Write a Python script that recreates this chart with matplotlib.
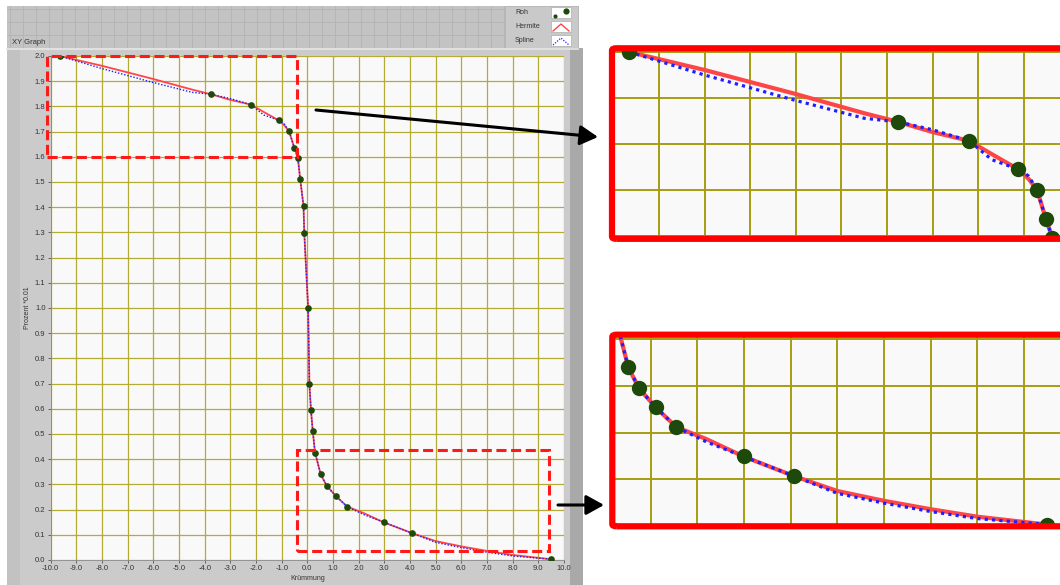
import numpy as np
import matplotlib
matplotlib.use("Agg")
import matplotlib.pyplot as plt
from matplotlib.patches import Rectangle, FancyBboxPatch, FancyArrowPatch
from matplotlib.lines import Line2D

# raw measurement points (Krümmung vs. Prozent*0.01)
roh_x = [-9.65, -3.75, -2.20, -1.12, -0.71, -0.51, -0.37, -0.28, -0.15, -0.12, 0.03,
         0.08, 0.14, 0.21, 0.30, 0.52, 0.75, 1.11, 1.55, 2.99, 4.07, 9.50]
roh_y = [2.000, 1.848, 1.807, 1.745, 1.701, 1.636, 1.596, 1.512, 1.406, 1.298, 1.001,
         0.700, 0.595, 0.512, 0.426, 0.340, 0.295, 0.254, 0.212, 0.149, 0.107, 0.003]

# interpolated curves
curve_x = [-9.65, -8.0, -6.05, -4.5, -3.75, -3.0, -2.20, -1.7, -1.12, -0.9, -0.71, -0.51,
           -0.37, -0.28, -0.15, -0.12, 0.03, 0.08, 0.14, 0.21, 0.30, 0.52, 0.75, 1.11,
           1.55, 2.2, 2.99, 4.07, 5.0, 6.0, 7.0, 8.0, 9.50]
hermite_y = [2.000, 1.961, 1.910, 1.867, 1.848, 1.826, 1.807, 1.778, 1.745, 1.725, 1.701,
             1.636, 1.596, 1.512, 1.406, 1.298, 1.001, 0.700, 0.595, 0.512, 0.426, 0.340,
             0.295, 0.254, 0.212, 0.186, 0.149, 0.107, 0.075, 0.054, 0.036, 0.020, 0.003]
spline_y = [2.000, 1.950, 1.896, 1.856, 1.848, 1.831, 1.807, 1.766, 1.745, 1.731, 1.701,
            1.636, 1.596, 1.512, 1.406, 1.298, 1.001, 0.700, 0.595, 0.512, 0.426, 0.340,
            0.295, 0.254, 0.212, 0.180, 0.149, 0.107, 0.070, 0.049, 0.031, 0.016, 0.003]

legend_names = ["Roh", "Hermite", "Spline"]
x_ticks = np.arange(-10, 10.5, 1.0)
y_ticks = np.arange(0, 2.05, 0.1)

W, H = 1060, 585
FONT = ["Liberation Sans", "DejaVu Sans"]
GRID = "#b3ab35"
RED = "#ff4646"
BLUE = "#1e1eff"
GREEN = "#1d4a0b"


def box(x0, y0, x1, y1):
    return [x0 / W, 1 - y1 / H, (x1 - x0) / W, (y1 - y0) / H]


def prect(fig, x0, y0, x1, y1, **kw):
    r = Rectangle((x0 / W, 1 - y1 / H), (x1 - x0) / W, (y1 - y0) / H,
                  transform=fig.transFigure, **kw)
    fig.add_artist(r)
    return r


def pline(fig, xs, ys, **kw):
    ln = Line2D([x / W for x in xs], [1 - y / H for y in ys], transform=fig.transFigure, **kw)
    fig.add_artist(ln)
    return ln


def draw_series(ax, scale=1.0):
    ax.plot(curve_x, hermite_y, color=RED, lw=1.3 * scale, zorder=3, solid_capstyle="round")
    ax.plot(curve_x, spline_y, color=BLUE, lw=1.0 * scale, ls=(0, (1, 1.3)), zorder=4)
    ax.plot(roh_x, roh_y, ls="none", marker="o", ms=4.8 * scale, color=GREEN,
            markeredgewidth=0, zorder=5)


fig = plt.figure(figsize=(W / 100, H / 100), dpi=100)
fig.patch.set_facecolor("white")

# front panel: grid-patterned strip on top, graph frame below
prect(fig, 7, 6, 505, 48, facecolor="#c3c3c3", edgecolor="none", zorder=-10)
for gx in np.arange(10, 505, 13):
    pline(fig, [gx, gx], [6, 48], color="#b3b3b3", lw=0.6, zorder=-9)
for gy in np.arange(9, 48, 13):
    pline(fig, [7, 505], [gy, gy], color="#b3b3b3", lw=0.6, zorder=-9)
prect(fig, 505, 6, 578, 48, facecolor="#c9c9c9", edgecolor="#b0b0b0", lw=0.6, zorder=-10)
prect(fig, 7, 48, 578, 585, facecolor="#cbcbcb", edgecolor="none", zorder=-10)
prect(fig, 7, 48, 20, 585, facecolor="#c2c2c2", edgecolor="none", zorder=-9)
prect(fig, 570, 48, 583, 585, facecolor="#a9a9a9", edgecolor="none", zorder=-9)
pline(fig, [7, 578], [49, 49], color="#e6e6e6", lw=1.2, zorder=-8)
fig.text(12 / W, 1 - 42 / H, "XY Graph", fontsize=5.5, family=FONT, color="#333333",
         va="center", ha="left")

# legend box
for i, name in enumerate(legend_names):
    yc = 13 + i * 14
    fig.text(515 / W, 1 - yc / H, name, fontsize=5, family=FONT, color="#333333",
             va="center", ha="left")
    prect(fig, 551, yc - 6, 571, yc + 5, facecolor="white", edgecolor="#a0a0a0", lw=0.4, zorder=2)
pline(fig, [555], [16], ls="none", marker="o", ms=3, color=GREEN, mew=0, zorder=3)
pline(fig, [566], [10.5], ls="none", marker="o", ms=4.5, color=GREEN, mew=0, zorder=3)
pline(fig, [553, 561, 569], [31, 24, 31], color=RED, lw=1.0, zorder=3)
pline(fig, [553, 561, 569], [45, 38, 45], color=BLUE, lw=0.9, ls=(0, (1, 1.2)), zorder=3)

# main graph
ax = fig.add_axes(box(50.7, 56, 564, 560))
ax.set_facecolor("#f9f9f9")
draw_series(ax)
ax.set_xlim(-10, 10)
ax.set_ylim(0, 2)
ax.set_xticks(x_ticks)
ax.set_yticks(y_ticks)
ax.set_xticklabels([f"{v:.1f}" for v in x_ticks])
ax.set_yticklabels([f"{v:.1f}" for v in y_ticks])
ax.grid(True, color=GRID, lw=0.9)
ax.set_axisbelow(True)
ax.tick_params(length=2.5, width=0.6, color="#555555", pad=1.2, labelsize=5.5,
               labelcolor="#333333")
for lbl in ax.get_xticklabels() + ax.get_yticklabels():
    lbl.set_family(FONT)
for side in ("top", "right"):
    ax.spines[side].set_visible(False)
for side in ("left", "bottom"):
    ax.spines[side].set_color("#8a8a8a")
    ax.spines[side].set_linewidth(0.6)
ax.set_xlabel("Krümmung", fontsize=5, family=FONT, color="#333333", labelpad=2)
ax.set_ylabel("Prozent *0.01", fontsize=5, family=FONT, color="#333333", labelpad=3)

# dashed frames marking the zoomed regions
for (x0, x1, y0, y1) in [(-10.13, -0.41, 1.600, 2.0), (-0.39, 9.43, 0.034, 0.435)]:
    ax.add_patch(Rectangle((x0, y0), x1 - x0, y1 - y0, fill=False, edgecolor="#ff1a1a",
                           lw=2.2, ls=(0, (3.3, 1.5)), clip_on=False, zorder=6))

# zoomed views
zoom1 = fig.add_axes(box(613.3, 50, 1069.3, 236))
zoom1.set_xlim(-10, 0)
zoom1.set_ylim(1.6, 2.0 + 2 / 460)
zoom2 = fig.add_axes(box(612, 335, 1070.7, 526))
zoom2.set_xlim(8 / 46.67, 10)
zoom2.set_ylim(0, 191 / 466.7)
for z in (zoom1, zoom2):
    z.set_facecolor("#f9f9f9")
    draw_series(z, scale=2.3)
    lo, hi = z.get_xlim()
    z.set_xticks(np.arange(np.ceil(lo), hi + 0.01, 1.0))
    lo, hi = z.get_ylim()
    z.set_yticks(np.arange(np.ceil(lo * 10) / 10, hi + 0.001, 0.1))
    z.grid(True, color="#a59d12", lw=1.4)
    z.set_axisbelow(True)
    z.tick_params(length=0, labelbottom=False, labelleft=False)
    for s in z.spines.values():
        s.set_visible(False)

for (x0, y0, y1) in [(612, 48.3, 238.8), (612.3, 334.7, 526.3)]:
    fig.add_artist(FancyBboxPatch((x0 / W, 1 - y1 / H), 600 / W, (y1 - y0) / H,
                                  boxstyle="round,pad=0,rounding_size=0.004",
                                  transform=fig.transFigure, fill=False,
                                  edgecolor="#ff0000", lw=4.5, zorder=8))

# arrows pointing to the zoomed views
for (a, b) in [((316, 110), (598, 137)), ((558, 505), (604, 505))]:
    fig.add_artist(FancyArrowPatch((a[0] / W, 1 - a[1] / H), (b[0] / W, 1 - b[1] / H),
                                   transform=fig.transFigure, arrowstyle="-|>,head_length=0.9,head_width=0.5",
                                   mutation_scale=12, lw=2.2, color="black",
                                   shrinkA=0, shrinkB=0, zorder=9))

fig.savefig("out.png", dpi=100)
